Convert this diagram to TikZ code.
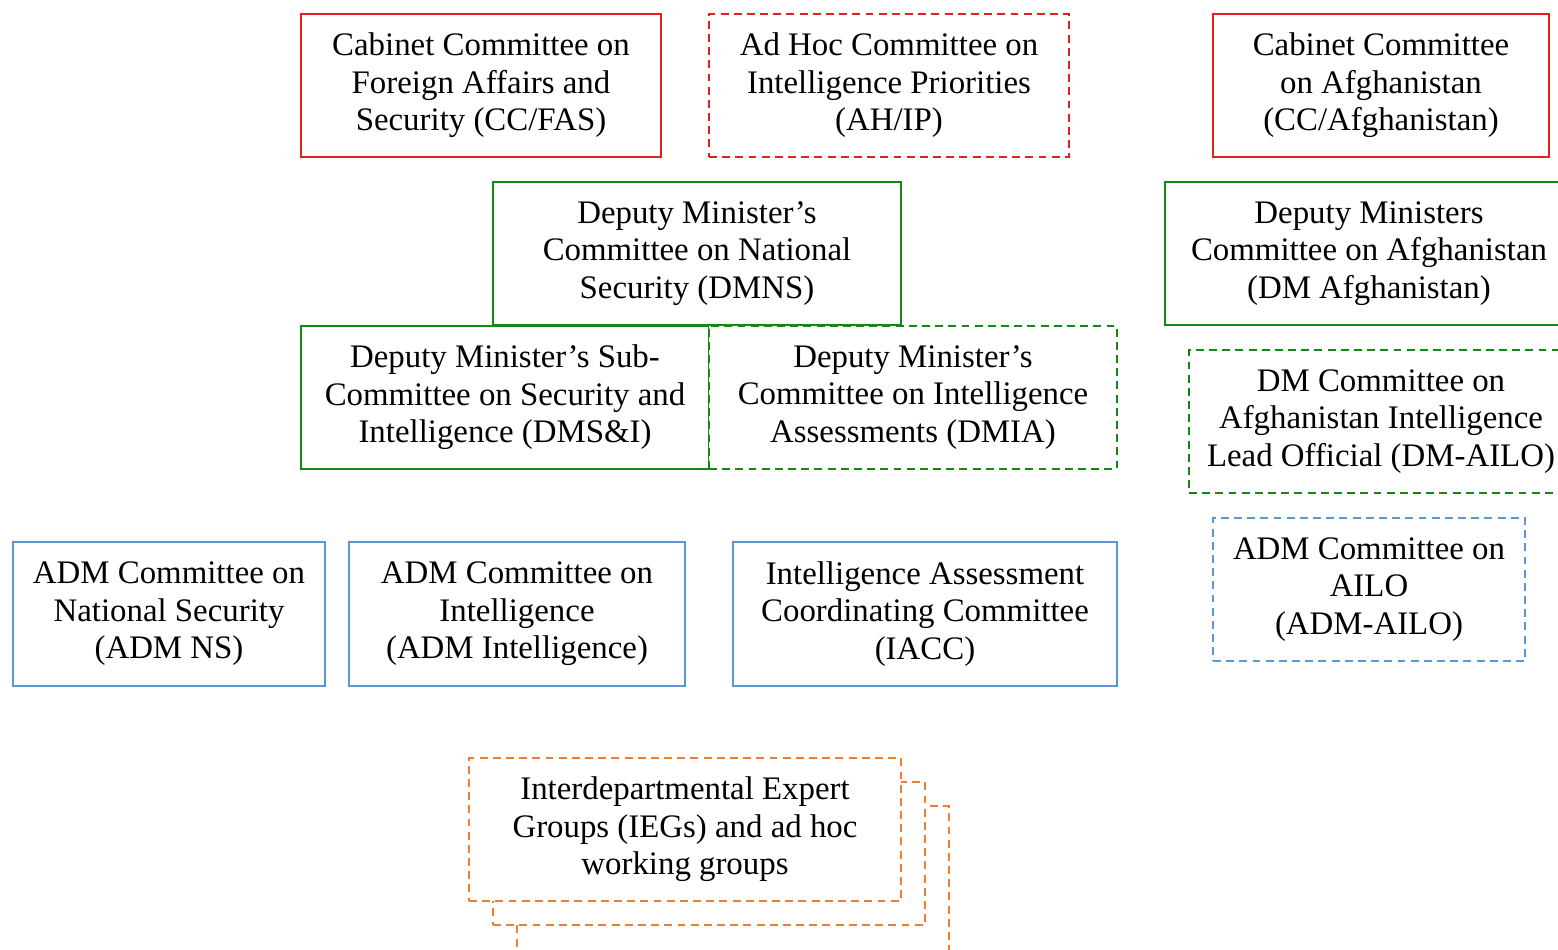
\documentclass[tikz,border=0pt]{standalone}
\usepackage{fontspec}
\setmainfont{Liberation Serif}
\usetikzlibrary{positioning}
\definecolor{cabred}{RGB}{230,30,36}
\definecolor{dmgreen}{RGB}{20,135,20}
\definecolor{admblue}{RGB}{91,150,214}
\definecolor{iegorange}{RGB}{237,125,49}
\begin{document}
\begin{tikzpicture}[line width=1.1pt,
    font=\fontsize{18.7}{21.3}\selectfont,
    box/.style={draw, fill=white, align=center, inner sep=2pt, minimum height=2.86cm},
    dashbox/.style={box, dash pattern=on 4.5pt off 3pt},
    cab/.style={box, draw=cabred, minimum width=7.2cm},
    dm/.style={box, draw=dmgreen, minimum width=8.16cm},
    adm/.style={box, draw=admblue},
    ieg/.style={dashbox, draw=iegorange, minimum width=8.64cm}]
  \clip (0,0) rectangle (31.16,18.98);
  % cabinet level
  \node[cab] (ccfas) at (9.62,17.27) {Cabinet Committee on\\ Foreign Affairs and\\ Security (CC/FAS)};
  \node[cab, dashbox] (ahip) at (17.78,17.27) {Ad Hoc Committee on\\ Intelligence Priorities\\ (AH/IP)};
  \node[cab, minimum width=6.72cm] (ccafg) at (27.62,17.27) {Cabinet Committee\\ on Afghanistan\\ (CC/Afghanistan)};
  % deputy minister level
  \node[dm] (dmns) at (13.94,13.91) {Deputy Minister’s\\ Committee on National\\ Security (DMNS)};
  \node[dm] (dmafg) at (27.38,13.91) {Deputy Ministers\\ Committee on Afghanistan\\ (DM Afghanistan)};
  \node[dm] (dmsi) at (10.10,11.03) {Deputy Minister’s Sub-\\ Committee on Security and\\ Intelligence (DMS\&I)};
  \node[dm, dashbox] (dmia) at (18.26,11.03) {Deputy Minister’s\\ Committee on Intelligence\\ Assessments (DMIA)};
  \node[dm, dashbox, minimum width=7.68cm] (dmailo) at (27.62,10.55) {DM Committee on\\ Afghanistan Intelligence\\ Lead Official (DM-AILO)};
  % ADM level
  \node[adm, minimum width=6.24cm, minimum height=2.88cm] (admns) at (3.38,6.70) {ADM Committee on\\ National Security\\ (ADM NS)};
  \node[adm, minimum width=6.72cm, minimum height=2.88cm] (admint) at (10.34,6.70) {ADM Committee on\\ Intelligence\\ (ADM Intelligence)};
  \node[adm, minimum width=7.68cm, minimum height=2.88cm] (iacc) at (18.50,6.70) {Intelligence Assessment\\ Coordinating Committee\\ (IACC)};
  \node[adm, dashbox, minimum width=6.24cm] (admailo) at (27.38,7.19) {ADM Committee on\\ AILO\\ (ADM-AILO)};
  % expert groups, stacked
  \node[ieg, minimum height=3cm] (ieg3) at (14.66,1.36) {};
  \node[ieg] (ieg2) at (14.18,1.91) {};
  \node[ieg] (ieg) at (13.70,2.39) {Interdepartmental Expert\\ Groups (IEGs) and ad hoc\\ working groups};
\end{tikzpicture}
\end{document}
